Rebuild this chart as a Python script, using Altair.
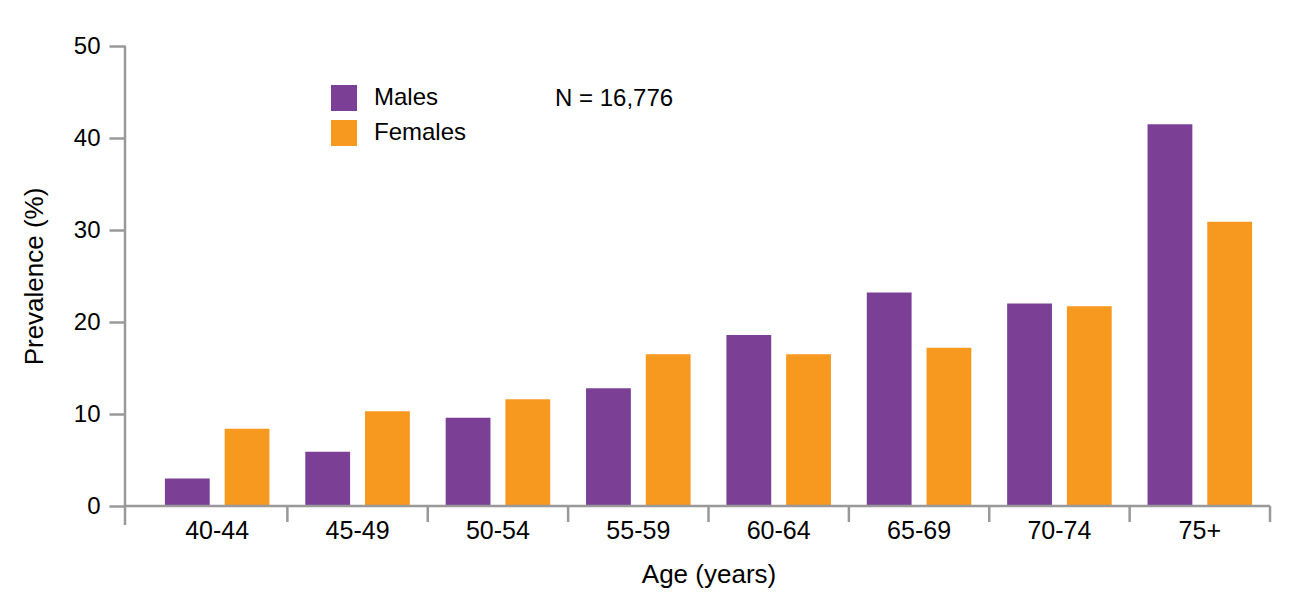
import altair as alt
import pandas as pd

ages = ["40-44", "45-49", "50-54", "55-59", "60-64", "65-69", "70-74", "75+"]
males = [3.0, 5.9, 9.6, 12.8, 18.6, 23.2, 22.0, 41.5]
females = [8.4, 10.3, 11.6, 16.5, 16.5, 17.2, 21.7, 30.9]
sexes = ["Males", "Females"]
colors = ["#7B3F96", "#F7981F"]
y_ticks = [0, 10, 20, 30, 40, 50]
n_label = "N = 16,776"

rows = []
for a, m, f in zip(ages, males, females):
    rows.append({"age": a, "sex": "Males", "value": m})
    rows.append({"age": a, "sex": "Females", "value": f})
df = pd.DataFrame(rows)
cats = pd.DataFrame({"age": ages})

W, H = 1145, 460
GRAY = "#999999"
FONT = "Liberation Sans"

xscale = alt.Scale(domain=ages, range=[22, W], paddingInner=0, paddingOuter=0)
yscale = alt.Scale(domain=[0, 50], nice=False)

bars = alt.Chart(df).mark_bar(strokeWidth=0).encode(
    x=alt.X("age:N", scale=xscale, sort=ages,
            axis=alt.Axis(title="Age (years)", ticks=False, domain=False,
                          labelAngle=0, labelFontSize=25, labelPadding=12,
                          labelColor="black", labelFont=FONT,
                          titleFontSize=26, titleFontWeight="normal",
                          titleColor="black", titleFont=FONT, titleY=55,
                          titleBaseline="top")),
    xOffset=alt.XOffset("sex:N", sort=sexes,
                        scale=alt.Scale(domain=sexes, paddingInner=0.25, paddingOuter=0.3)),
    y=alt.Y("value:Q", scale=yscale,
            axis=alt.Axis(title="Prevalence (%)", values=y_ticks, domain=False,
                          grid=False, tickSize=16, tickColor=GRAY, tickWidth=2.5,
                          labelFontSize=24, labelPadding=9, labelColor="black",
                          labelFont=FONT, titleFontSize=26, titleFontWeight="normal",
                          titleColor="black", titleFont=FONT, titleX=-78, titleY=230)),
    color=alt.Color("sex:N", sort=sexes,
                    scale=alt.Scale(domain=sexes, range=colors),
                    legend=alt.Legend(title=None, orient="none", legendX=206, legendY=39,
                                      symbolType="square", symbolSize=676,
                                      symbolStrokeWidth=0, symbolOpacity=1,
                                      labelFontSize=24, labelFont=FONT,
                                      labelColor="black", labelOffset=17,
                                      rowPadding=9, padding=0)),
)

yline = alt.Chart(cats.head(1)).mark_rule(color=GRAY, strokeWidth=2.5).encode(
    x=alt.value(0), y=alt.value(0), y2=alt.value(479))
xline = alt.Chart(cats.head(1)).mark_rule(color=GRAY, strokeWidth=2.5).encode(
    x=alt.value(0), x2=alt.value(W), y=alt.value(H))
xticks = alt.Chart(cats).mark_rule(color=GRAY, strokeWidth=2.5).encode(
    x=alt.X("age:N", scale=xscale, sort=ages, bandPosition=1),
    y=alt.value(H), y2=alt.value(H + 16))

ntext = alt.Chart(pd.DataFrame({"t": [n_label]})).mark_text(
    align="left", baseline="alphabetic", fontSize=24, font=FONT, color="black"
).encode(x=alt.value(430), y=alt.value(60), text="t:N")

chart = alt.layer(bars, xticks, yline, xline, ntext).properties(
    width=W, height=H,
    autosize=alt.AutoSizeParams(type="none"),
    padding={"left": 117, "top": 38, "right": 11, "bottom": 92},
).configure(font=FONT).configure_view(stroke=None)

chart.save("out.html", embed_options={"renderer": "svg", "actions": False})
